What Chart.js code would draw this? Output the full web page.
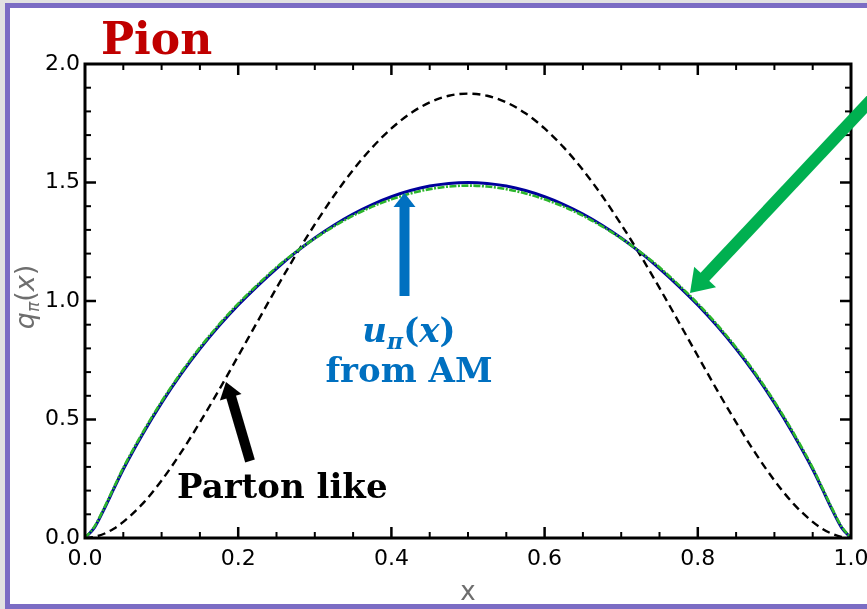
<!DOCTYPE html>
<html>
<head>
<meta charset="utf-8">
<script src="https://cdn.jsdelivr.net/npm/chart.js@4.4.1/dist/chart.umd.min.js"></script>
<style>
  html, body { margin: 0; padding: 0; overflow: hidden; background: #e2e2e2; }
  #frame { position: absolute; left: 5px; top: 3px; width: 900px; height: 596px; border: 5px solid #7b6cc4; background: #fff; }
  #chart { position: absolute; left: 0; top: 0; }
  #notes { position: absolute; left: 0; top: 0; pointer-events: none; }
</style>
</head>
<body>
<div id="frame"></div>
<canvas id="chart" width="867" height="609"></canvas>
<svg id="notes" width="867" height="609" xmlns="http://www.w3.org/2000/svg">
  <text x="101" y="54" font-family="DejaVu Serif" font-weight="bold" font-size="44" fill="#c00000">Pion</text>

  <!-- blue arrow + label -->
  <rect x="399.5" y="204" width="10" height="92" fill="#0070c0"/>
  <polygon points="393.5,207 415.5,207 404.5,193" fill="#0070c0"/>
  <text x="409" y="342" text-anchor="middle" font-family="DejaVu Serif" font-weight="bold" font-size="34" fill="#0070c0"><tspan font-style="italic">u</tspan><tspan font-style="italic" font-size="22" dy="7">π</tspan><tspan dy="-7">(</tspan><tspan font-style="italic">x</tspan>)</text>
  <text x="409" y="382" text-anchor="middle" font-family="DejaVu Serif" font-weight="bold" font-size="34" fill="#0070c0">from AM</text>

  <!-- black arrow + label -->
  <line x1="250" y1="461" x2="230" y2="393" stroke="#000" stroke-width="10"/>
  <polygon points="241.5,394 219.9,400.6 226,382" fill="#000"/>
  <text x="177" y="498" font-family="DejaVu Serif" font-weight="bold" font-size="34" fill="#000">Parton like</text>

  <!-- green arrow -->
  <line x1="903" y1="66" x2="701" y2="281" stroke="#00b050" stroke-width="12"/>
  <polygon points="716,287.3 694.2,266.7 690,293" fill="#00b050"/>

  <!-- y axis title -->
  <g transform="translate(34,297) rotate(-90)">
    <text x="0" y="0" text-anchor="middle" font-family="DejaVu Sans" font-size="27" fill="#6e6e6e"><tspan font-style="italic">q</tspan><tspan font-style="italic" font-size="17" dy="5">π</tspan><tspan dy="-5">(</tspan><tspan font-style="italic">x</tspan>)</text>
  </g>
</svg>
<script>
// x grid of the curves
const xs = [0, 0.0125, 0.025, 0.0375, 0.05, 0.075, 0.1, 0.125, 0.15, 0.175, 0.2, 0.225, 0.25, 0.275, 0.3, 0.325, 0.35, 0.375, 0.4, 0.425, 0.45, 0.475,
            0.5, 0.525, 0.55, 0.575, 0.6, 0.625, 0.65, 0.675, 0.7, 0.725, 0.75, 0.775, 0.8, 0.825, 0.85, 0.875, 0.9, 0.925, 0.95, 0.9625, 0.975, 0.9875, 1];

// u_pi(x) from AM (solid blue)
const amSolid = [0, 0.045, 0.122, 0.207, 0.290, 0.437, 0.570, 0.690, 0.798, 0.895, 0.983, 1.063, 1.137, 1.205, 1.266, 1.320, 1.367, 1.407, 1.440, 1.466, 1.485, 1.496,
                 1.500, 1.496, 1.485, 1.466, 1.440, 1.407, 1.367, 1.320, 1.266, 1.205, 1.137, 1.063, 0.983, 0.895, 0.798, 0.690, 0.570, 0.437, 0.290, 0.207, 0.122, 0.045, 0];

// second AM curve (green dash-dot)
const amDashed = [0, 0.049, 0.127, 0.212, 0.296, 0.443, 0.576, 0.696, 0.804, 0.901, 0.989, 1.068, 1.142, 1.207, 1.264, 1.315, 1.360, 1.398, 1.429, 1.454, 1.472, 1.483,
                  1.487, 1.483, 1.472, 1.454, 1.429, 1.398, 1.360, 1.315, 1.264, 1.207, 1.142, 1.068, 0.989, 0.901, 0.804, 0.696, 0.576, 0.443, 0.296, 0.212, 0.127, 0.049, 0];

// parton like (black dashed)
const partonLike = [0, 0.005, 0.018, 0.039, 0.068, 0.144, 0.243, 0.359, 0.488, 0.625, 0.768, 0.912, 1.055, 1.193, 1.323, 1.444, 1.553, 1.648, 1.728, 1.792, 1.838, 1.866,
                    1.875, 1.866, 1.838, 1.792, 1.728, 1.648, 1.553, 1.444, 1.323, 1.193, 1.055, 0.912, 0.768, 0.625, 0.488, 0.359, 0.243, 0.144, 0.068, 0.039, 0.018, 0.005, 0];

const pts = (ys) => xs.map((x, i) => ({ x, y: ys[i] }));

// inward ticks on all four sides + box frame
const frameTicks = {
    id: 'frameTicks',
    afterDatasetsDraw(chart) {
        const { ctx, chartArea: a, scales: { x, y } } = chart;
        ctx.save();
        ctx.strokeStyle = '#000';
        const seg = (x1, y1, x2, y2, w) => {
            ctx.lineWidth = w;
            ctx.beginPath(); ctx.moveTo(x1, y1); ctx.lineTo(x2, y2); ctx.stroke();
        };
        for (let i = 1; i < 20; i++) {
            const px = x.getPixelForValue(i * 0.05);
            const major = i % 4 === 0;
            const len = major ? 11 : 6;
            seg(px, a.bottom, px, a.bottom - len, major ? 2.5 : 2);
            seg(px, a.top, px, a.top + len, major ? 2.5 : 2);
        }
        for (let i = 1; i < 20; i++) {
            const py = y.getPixelForValue(i * 0.1);
            const major = i % 5 === 0;
            const len = major ? 11 : 6;
            seg(a.left, py, a.left + len, py, major ? 2.5 : 2);
            seg(a.right, py, a.right - len, py, major ? 2.5 : 2);
        }
        ctx.lineWidth = 3;
        ctx.strokeRect(a.left, a.top, a.right - a.left, a.bottom - a.top);
        ctx.restore();
    }
};

const tickFont = { family: 'DejaVu Sans', size: 22 };

new Chart(document.getElementById('chart').getContext('2d'), {
    type: 'line',
    data: {
        // lower order is painted on top
        datasets: [
            { data: pts(amDashed), order: 0, borderColor: '#2bb52b', borderWidth: 2.6, borderDash: [7, 1.5, 2, 1.5], pointRadius: 0, cubicInterpolationMode: 'monotone' },
            { data: pts(amSolid), order: 1, borderColor: '#00009c', borderWidth: 3, pointRadius: 0, cubicInterpolationMode: 'monotone' },
            { data: pts(partonLike), order: 2, borderColor: '#000', borderWidth: 2.4, borderDash: [8, 5], pointRadius: 0, cubicInterpolationMode: 'monotone' },
        ]
    },
    options: {
        responsive: false,
        animation: false,
        devicePixelRatio: 1,
        layout: { padding: { left: 0, top: 64, right: 16, bottom: 0 } },
        plugins: { legend: { display: false }, tooltip: { enabled: false } },
        scales: {
            x: {
                type: 'linear', min: 0, max: 1,
                grid: { display: false, drawTicks: false }, border: { display: false },
                ticks: { stepSize: 0.2, callback: v => v.toFixed(1), font: tickFont, color: '#000', padding: 8, maxRotation: 0 },
                title: { display: true, text: 'x', color: '#6e6e6e', font: { family: 'DejaVu Sans', size: 26 }, padding: 0 },
                afterFit: s => { s.height = 71; s.paddingLeft = 0; s.paddingRight = 0; }
            },
            y: {
                type: 'linear', min: 0, max: 2,
                grid: { display: false, drawTicks: false }, border: { display: false },
                ticks: { stepSize: 0.5, callback: v => v.toFixed(1), font: tickFont, color: '#000', padding: 5 },
                afterFit: s => { s.width = 85; s.paddingTop = 0; s.paddingBottom = 0; }
            }
        }
    },
    plugins: [frameTicks]
});
</script>
</body>
</html>
